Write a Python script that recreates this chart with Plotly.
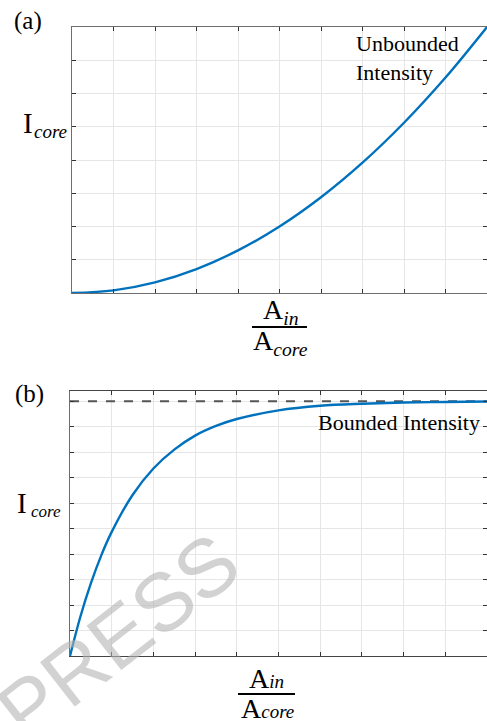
import plotly.graph_objects as go

# ---- data ----
x_a = [0, 1, 2, 3, 4, 5, 6, 7, 8, 9, 10]
y_a = [0, 0.08, 0.32, 0.72, 1.28, 2.0, 2.88, 3.92, 5.12, 6.48, 8.0]

x_b = [0, 0.25, 0.5, 0.75, 1, 1.5, 2, 2.5, 3, 3.5, 4, 5, 6, 7, 8, 9, 10]
y_b = [0, 1.55, 2.85, 3.95, 4.87, 6.32, 7.36, 8.1, 8.65, 9.03, 9.3, 9.64, 9.82, 9.9, 9.95, 9.97, 9.99]

bound_level = 10
x_range = [0, 10]
y_range_a = [0, 8]
y_range_b = [0, 10.4]

W, H = 487, 721
def px(x): return x / W
def py(y): return 1 - y / H

BLUE = "#0072BD"
AX = "#6e6e6e"
GRID = "#e6e6e6"
SERIF = "Liberation Serif"

fig = go.Figure()
fig.add_trace(go.Scatter(x=x_a, y=y_a, mode="lines", line=dict(color=BLUE, width=2.4, shape="spline"),
                         xaxis="x", yaxis="y", showlegend=False, hoverinfo="skip"))
fig.add_trace(go.Scatter(x=x_range, y=[bound_level, bound_level], mode="lines",
                         line=dict(color="#555555", width=2, dash="dash"),
                         xaxis="x2", yaxis="y2", showlegend=False, hoverinfo="skip"))
fig.add_trace(go.Scatter(x=x_b, y=y_b, mode="lines", line=dict(color=BLUE, width=2.4, shape="spline"),
                         xaxis="x2", yaxis="y2", showlegend=False, hoverinfo="skip"))

common = dict(showticklabels=False, ticks="inside", ticklen=4, tickcolor="#333",
              showline=True, linecolor=AX, linewidth=1.3, mirror="ticks",
              showgrid=True, gridcolor=GRID, gridwidth=1, zeroline=False, dtick=1, tick0=0)

fig.update_layout(
    width=W, height=H, margin=dict(l=0, r=0, t=0, b=0),
    paper_bgcolor="white", plot_bgcolor="white",
    font=dict(family=SERIF),
    xaxis=dict(domain=[px(72), 1.0], range=x_range, anchor="y", **common),
    yaxis=dict(domain=[py(293), py(27)], range=y_range_a, anchor="x", **common),
    xaxis2=dict(domain=[px(70), 1.0], range=x_range, anchor="y2", **{**common, "linecolor": "#444"}),
    yaxis2=dict(domain=[py(656), py(391)], range=y_range_b, anchor="x2", **common),
)

ann = []
def text(x, y, s, size, xanchor="left", yanchor="middle", color="black", angle=0, family=SERIF):
    ann.append(dict(x=px(x), y=py(y), xref="paper", yref="paper", text=s, showarrow=False,
                    xanchor=xanchor, yanchor=yanchor, textangle=angle,
                    font=dict(family=family, size=size, color=color), align="left"))

# panel labels
text(12, 21, "(a)", 25)
text(13, 394, "(b)", 25)
# y labels
text(21, 123, "I", 29)
text(32, 131, "<i>core</i>", 19)
text(15, 503, "I", 29)
text(29, 511, "<i>core</i>", 17)
# curve annotations
text(354, 58, "Unbounded<br>Intensity", 22)
text(316, 422, "Bounded Intensity", 22)
# x labels (fraction)
text(280, 311, "A<sub><i>in</i></sub>", 28, xanchor="center")
text(280, 342, "A<sub><i>core</i></sub>", 28, xanchor="center")
text(266, 678, "A<span style='font-size:19px'><i>in</i></span>", 28, xanchor="center")
text(267, 708, "A<span style='font-size:19px'><i>core</i></span>", 28, xanchor="center")
# watermark
ann.append(dict(x=px(118), y=py(636), xref="paper", yref="paper", text="PRESS", showarrow=False,
                xanchor="center", yanchor="middle", textangle=-38,
                font=dict(family="Liberation Sans", size=82, color="rgba(180,180,180,0.6)")))
fig.update_layout(annotations=ann)

fig.update_layout(shapes=[
    dict(type="line", xref="paper", yref="paper", x0=px(252), x1=px(307), y0=py(327), y1=py(327),
         line=dict(color="black", width=2)),
    dict(type="line", xref="paper", yref="paper", x0=px(238), x1=px(295), y0=py(694), y1=py(694),
         line=dict(color="black", width=2)),
])

fig.write_html("out.html", config={"displayModeBar": False, "staticPlot": True},
               post_script="document.body.style.margin='0';document.body.style.padding='0';document.body.style.overflow='hidden';")
